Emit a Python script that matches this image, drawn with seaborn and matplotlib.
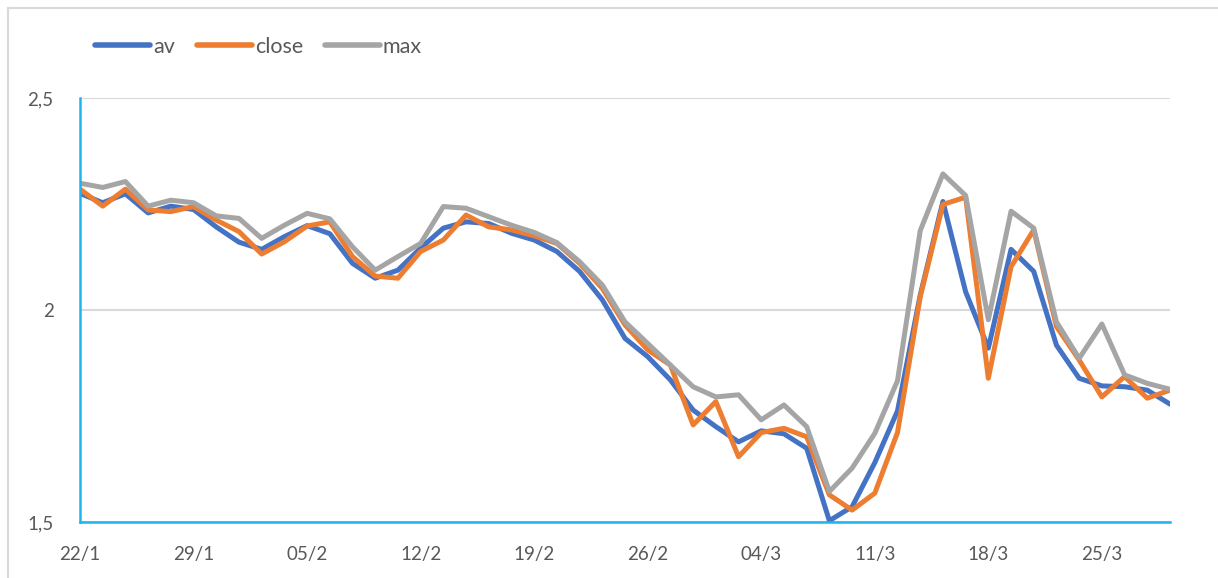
import matplotlib
matplotlib.use('Agg')
import matplotlib.pyplot as plt
import seaborn as sns
import pandas as pd
from matplotlib.lines import Line2D

sns.set_style('white')
plt.rcParams['font.family'] = ['Lato', 'DejaVu Sans']

# trading days from 22/1/2020
dates = pd.bdate_range('2020-01-22', periods=49)

av = [2.275, 2.253, 2.274, 2.229, 2.245, 2.237, 2.196, 2.160, 2.143, 2.173,
      2.199, 2.180, 2.110, 2.075, 2.094, 2.146, 2.193, 2.208, 2.204, 2.181,
      2.165, 2.138, 2.091, 2.024, 1.933, 1.890, 1.835, 1.764, 1.725, 1.689,
      1.715, 1.708, 1.674, 1.503, 1.536, 1.640, 1.762, 2.035, 2.256, 2.043,
      1.910, 2.143, 2.091, 1.917, 1.839, 1.821, 1.819, 1.811, 1.778]
close = [2.285, 2.245, 2.285, 2.236, 2.232, 2.244, 2.212, 2.185, 2.132, 2.161,
         2.198, 2.208, 2.126, 2.080, 2.075, 2.138, 2.165, 2.224, 2.196, 2.189,
         2.175, 2.157, 2.110, 2.051, 1.965, 1.906, 1.870, 1.729, 1.784, 1.654,
         1.711, 1.721, 1.701, 1.564, 1.528, 1.568, 1.711, 2.031, 2.249, 2.266,
         1.839, 2.102, 2.189, 1.961, 1.882, 1.795, 1.843, 1.792, 1.811]
mx = [2.299, 2.289, 2.303, 2.245, 2.259, 2.253, 2.222, 2.216, 2.169, 2.200,
      2.228, 2.215, 2.149, 2.094, 2.126, 2.157, 2.244, 2.240, 2.220, 2.200,
      2.183, 2.159, 2.114, 2.059, 1.972, 1.921, 1.870, 1.819, 1.795, 1.800,
      1.741, 1.776, 1.725, 1.572, 1.627, 1.709, 1.833, 2.187, 2.321, 2.270,
      1.977, 2.233, 2.193, 1.972, 1.886, 1.967, 1.847, 1.827, 1.813]

series = ['av', 'close', 'max']
colors = ['#4472C4', '#ED7D31', '#A5A5A5']

df = pd.DataFrame({'i': list(range(len(dates))) * 3,
                   'value': av + close + mx,
                   'serie': [s for s in series for _ in dates]})

fig = plt.figure(figsize=(12.18, 5.78), dpi=100)
ax = fig.add_axes([80 / 1218, 1 - 522 / 578, 1090 / 1218, 424 / 578])

sns.lineplot(data=df, x='i', y='value', hue='serie', palette=colors,
             linewidth=3.6, ax=ax, legend=False)

ax.set_xlim(0, len(dates) - 1)
ax.set_ylim(1.5, 2.5)
ax.set_yticks([1.5, 2.0, 2.5])
ax.set_yticklabels(['1,5', '2', '2,5'])
ticks = list(range(0, len(dates), 5))
ax.set_xticks(ticks)
ax.set_xticklabels([f'{dates[t]:%d}/{dates[t].month}' for t in ticks])
ax.set_xlabel('')
ax.set_ylabel('')

ax.grid(axis='y', color='#D9D9D9', linewidth=1.5)
ax.set_axisbelow(True)
for s in ['top', 'right']:
    ax.spines[s].set_visible(False)
for s in ['left', 'bottom']:
    ax.spines[s].set_color('#1EB4EE')
    ax.spines[s].set_linewidth(1.8)
ax.tick_params(axis='x', direction='in', length=5, width=1.2, color='#1EB4EE',
               pad=17, labelsize=13.5, labelcolor='#595959')
ax.tick_params(axis='y', length=0, pad=19, labelsize=13.5, labelcolor='#595959')

handles = [Line2D([], [], color=c, linewidth=4, solid_capstyle='round') for c in colors]
fig.legend(handles, series, loc='center left', bbox_to_anchor=(76 / 1218, 1 - 47 / 578),
           ncol=3, frameon=False, fontsize=15.5, handlelength=2.55, handletextpad=0.15,
           columnspacing=1.0, labelcolor='#595959')

# chart border
fig.add_artist(Line2D([8 / 1218, 1], [1 - 8 / 578, 1 - 8 / 578], color='#D9D9D9', linewidth=1.5))
fig.add_artist(Line2D([8 / 1218, 8 / 1218], [0, 1 - 8 / 578], color='#D9D9D9', linewidth=1.5))

plt.savefig('out.png', dpi=100)
plt.close()
